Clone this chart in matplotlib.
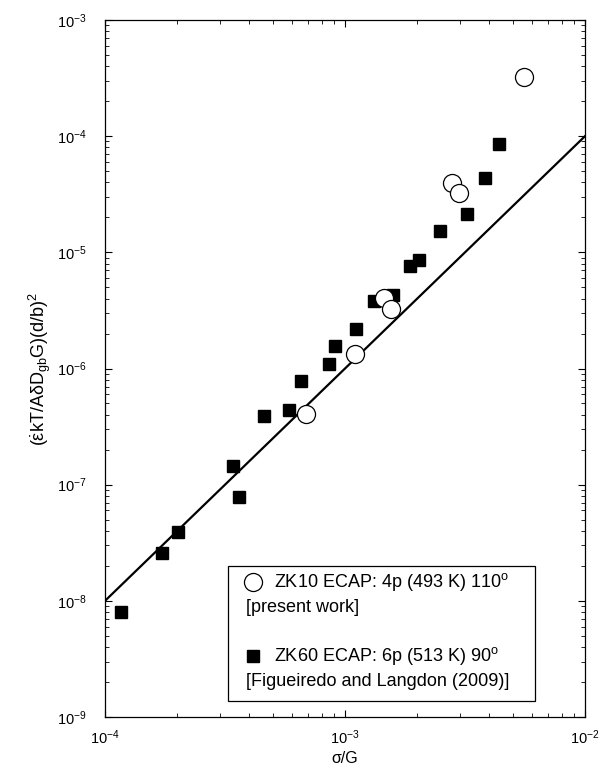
import matplotlib
matplotlib.use("Agg")
import matplotlib.pyplot as plt
from matplotlib.patches import Rectangle

plt.rcParams["font.family"] = ["Liberation Sans", "DejaVu Sans"]
plt.rcParams["mathtext.fontset"] = "custom"
plt.rcParams["mathtext.rm"] = "Liberation Sans"
plt.rcParams["mathtext.it"] = "Liberation Sans"
plt.rcParams["mathtext.bf"] = "Liberation Sans:bold"

# ZK10 ECAP, present work (open circles)
zk10_x = [6.90e-4, 1.104e-3, 1.458e-3, 1.55e-3, 2.80e-3, 2.99e-3, 5.55e-3]
zk10_y = [4.04e-7, 1.34e-6, 4.03e-6, 3.28e-6, 3.98e-5, 3.23e-5, 3.25e-4]

# ZK60 ECAP, Figueiredo and Langdon (2009) (filled squares)
zk60_x = [1.166e-4, 1.733e-4, 2.009e-4, 3.405e-4, 3.627e-4, 4.61e-4, 5.84e-4,
          6.55e-4, 8.55e-4, 9.11e-4, 1.108e-3, 1.321e-3, 1.58e-3, 1.865e-3,
          2.04e-3, 2.49e-3, 3.23e-3, 3.83e-3, 4.37e-3]
zk60_y = [8.0e-9, 2.6e-8, 3.95e-8, 1.45e-7, 7.85e-8, 3.91e-7, 4.38e-7,
          7.82e-7, 1.09e-6, 1.55e-6, 2.18e-6, 3.84e-6, 4.3e-6, 7.69e-6,
          8.6e-6, 1.54e-5, 2.15e-5, 4.34e-5, 8.57e-5]

# slope-2 reference line
line_x = [1e-4, 1e-2]
line_y = [1e-8, 1e-4]

fig = plt.figure(figsize=(6.0, 7.72), dpi=100)
ax = fig.add_axes([0.175, 0.0712, 0.8, 0.9029])

ax.plot(line_x, line_y, color="black", linewidth=1.6, zorder=2)
ax.plot(zk60_x, zk60_y, linestyle="none", marker="s", markersize=9,
        color="black", zorder=3)
ax.plot(zk10_x, zk10_y, linestyle="none", marker="o", markersize=13,
        markerfacecolor="white", markeredgecolor="black",
        markeredgewidth=0.9, zorder=4)

ax.set_xscale("log")
ax.set_yscale("log")
ax.set_xlim(1e-4, 1e-2)
ax.set_ylim(1e-9, 1e-3)

ax.tick_params(which="both", direction="in", top=True, right=True,
               labelsize=10.5)
ax.tick_params(axis="x", pad=8)
ax.tick_params(axis="y", pad=13)
ax.tick_params(which="major", length=5, width=0.8)
ax.tick_params(which="minor", length=3, width=0.6)
for spine in ax.spines.values():
    spine.set_linewidth(0.9)

ax.set_xlabel("σ/G", fontsize=11.5, labelpad=3)
ax.set_ylabel(r"$(\dot{\varepsilon}kT/A\delta D_{\rm gb}G)(d/b)^2$",
              fontsize=13, labelpad=3)

# legend box drawn by hand (second lines start under the marker)
ax.add_patch(Rectangle((0.2556, 0.023), 0.640, 0.1937, transform=ax.transAxes,
                       facecolor="white", edgecolor="black", linewidth=0.9,
                       zorder=5))
ax.plot([0.3083], [0.194], transform=ax.transAxes, marker="o", markersize=13,
        markerfacecolor="white", markeredgecolor="black", markeredgewidth=0.9,
        zorder=6, clip_on=False)
ax.plot([0.3077], [0.0875], transform=ax.transAxes, marker="s", markersize=9,
        color="black", zorder=6, clip_on=False)
legend_font = 13
ax.text(0.3527, 0.194, r"ZK10 ECAP: 4p (493 K) 110$^{\rm o}$",
        transform=ax.transAxes, fontsize=legend_font, va="center", zorder=6)
ax.text(0.2937, 0.1574, "[present work]", transform=ax.transAxes,
        fontsize=legend_font, va="center", zorder=6)
ax.text(0.3527, 0.0875, r"ZK60 ECAP: 6p (513 K) 90$^{\rm o}$",
        transform=ax.transAxes, fontsize=legend_font, va="center", zorder=6)
ax.text(0.2937, 0.0506, "[Figueiredo and Langdon (2009)]",
        transform=ax.transAxes, fontsize=legend_font, va="center", zorder=6)

fig.savefig("out.png", dpi=100)
